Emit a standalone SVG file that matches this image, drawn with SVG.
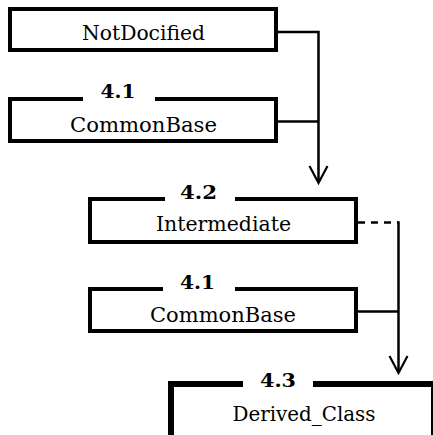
<svg xmlns="http://www.w3.org/2000/svg" width="433" height="435" viewBox="0 0 433 435">
<style>
.box{fill:none;stroke:#000;stroke-width:4}
.big{fill:none;stroke:#000;stroke-width:6}
.gap{fill:#fff;stroke:none}
text{font-family:'DejaVu Serif','Liberation Serif','Noto Serif','Times New Roman',serif}
.name{font-size:20px;fill:#000;text-anchor:middle}
.num{font-size:18px;font-weight:bold;fill:#000;text-anchor:middle}
.conn{fill:none;stroke:#000;stroke-width:2.5}
.dash{stroke-dasharray:7 6}
</style>
<g id="connectors">
<path class="conn" d="M278,32 H318.5 V181"/>
<path class="conn" d="M278,121.5 H318.5"/>
<path d="M309.5,166 L318.5,183 L327.5,166" fill="none" stroke="#000" stroke-width="2.2"/>
<path class="conn dash" d="M358,222.5 H398.5"/>
<path class="conn" d="M398.5,221.3 V371"/>
<path class="conn" d="M358,311.5 H398.5"/>
<path d="M389.5,356 L398.5,373 L407.5,356" fill="none" stroke="#000" stroke-width="2.2"/>
</g>
<g id="NotDocified">
<rect class="box" x="10" y="9" width="266" height="41"/>
<text class="name" x="143.5" y="40" textLength="123" lengthAdjust="spacingAndGlyphs">NotDocified</text>
</g>
<g id="CommonBase1">
<rect class="box" x="10" y="99" width="266" height="42"/>
<rect class="gap" x="83" y="95" width="72" height="6"/>
<text class="num" x="118" y="97.5" textLength="35" lengthAdjust="spacingAndGlyphs">4.1</text>
<text class="name" x="143.5" y="132" textLength="147" lengthAdjust="spacingAndGlyphs">CommonBase</text>
</g>
<g id="Intermediate">
<rect class="box" x="90" y="199" width="266" height="43"/>
<rect class="gap" x="165" y="195" width="70" height="6"/>
<text class="num" x="198.5" y="199" textLength="37" lengthAdjust="spacingAndGlyphs">4.2</text>
<text class="name" x="223.5" y="231" textLength="135" lengthAdjust="spacingAndGlyphs">Intermediate</text>
</g>
<g id="CommonBase2">
<rect class="box" x="90" y="289" width="266" height="42"/>
<rect class="gap" x="163" y="285" width="72" height="6"/>
<text class="num" x="197.5" y="289" textLength="35" lengthAdjust="spacingAndGlyphs">4.1</text>
<text class="name" x="223" y="321.5" textLength="146" lengthAdjust="spacingAndGlyphs">CommonBase</text>
</g>
<g id="Derived_Class">
<rect class="big" x="171" y="384" width="263" height="70"/>
<rect class="gap" x="243" y="379" width="70" height="9"/>
<text class="num" x="278" y="386.5" textLength="36" lengthAdjust="spacingAndGlyphs">4.3</text>
<text class="name" x="304" y="421" textLength="143" lengthAdjust="spacingAndGlyphs">Derived_Class</text>
</g>
</svg>
